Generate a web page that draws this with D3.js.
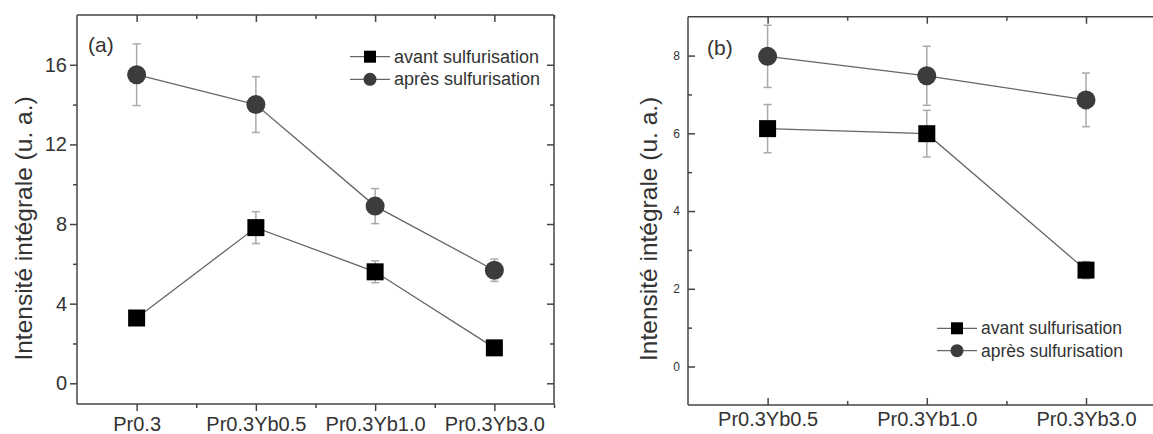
<!DOCTYPE html>
<html><head><meta charset="utf-8">
<script src="https://cdn.jsdelivr.net/npm/d3@7"></script>
<style>
body{margin:0;background:#fff;}
svg{display:block;font-family:"Liberation Sans",Arial,sans-serif;}
</style></head>
<body><svg id="c" width="1153" height="434"></svg>
<script>
// ---- Data ----
const catsA = ["Pr0.3","Pr0.3Yb0.5","Pr0.3Yb1.0","Pr0.3Yb3.0"];
const avantA = [3.28, 7.82, 5.6, 1.78];
const avantAErr = [0.2, 0.8, 0.55, 0.2];
const apresA = [15.5, 14.0, 8.9, 5.68];
const apresAErr = [1.55, 1.4, 0.88, 0.56];
const yTicksA = [0, 4, 8, 12, 16];
const yMinorA = [2, 6, 10, 14];

const catsB = ["Pr0.3Yb0.5","Pr0.3Yb1.0","Pr0.3Yb3.0"];
const avantB = [6.12, 5.99, 2.48];
const avantBErr = [0.62, 0.6, 0.22];
const apresB = [7.98, 7.48, 6.86];
const apresBErr = [0.8, 0.76, 0.69];
const yTicksB = [0, 2, 4, 6, 8];
const yMinorB = [1, 3, 5, 7];

const seriesNames = ["avant sulfurisation", "après sulfurisation"];

const svg = d3.select("#c");
const frameCol = "#444", lineCol = "#666", errCol = "#aaa";
const sqCol = "#000", ciCol = "#3c3c3c";

function styleTicks(sel){
  sel.select(".domain").remove();
  sel.selectAll("line").attr("stroke",frameCol).attr("stroke-width",1.5);
}

function panel(o){
  const g = svg.append("g");
  const x = d3.scaleLinear().domain([0.5, o.cats.length + 0.5]).range([o.left, o.left + o.w]);
  const y = d3.scaleLinear().domain(o.ydom).range([o.bottom, o.top]);
  const right = o.left + o.w;
  const visRight = Math.min(right, 1160);
  const s = o.out ? 1 : -1; // outward (+) or inward (-) for left/bottom ticks
  // frame
  g.append("line").attr("x1",o.left).attr("x2",o.left).attr("y1",o.top).attr("y2",o.bottom).attr("stroke",frameCol).attr("stroke-width",1.5);
  g.append("line").attr("x1",o.left).attr("x2",visRight).attr("y1",o.top).attr("y2",o.top).attr("stroke",frameCol).attr("stroke-width",1.5);
  g.append("line").attr("x1",o.left).attr("x2",visRight).attr("y1",o.bottom).attr("y2",o.bottom).attr("stroke",frameCol).attr("stroke-width",1.5);
  if (o.rightFrame) g.append("line").attr("x1",right).attr("x2",right).attr("y1",o.top).attr("y2",o.bottom).attr("stroke",frameCol).attr("stroke-width",1.5);

  // left axis
  const ya = d3.axisLeft(y).tickValues(o.yt).tickSizeInner(7*s).tickSizeOuter(0).tickPadding(o.ytPad).tickFormat(d3.format("d"));
  const yg = g.append("g").attr("transform",`translate(${o.left},0)`).call(ya);
  styleTicks(yg);
  yg.selectAll("text").attr("font-size",o.ytFont).attr("fill","#333");
  const ym = d3.axisLeft(y).tickValues(o.ym).tickSizeInner(4*s).tickSizeOuter(0).tickFormat("");
  styleTicks(g.append("g").attr("transform",`translate(${o.left},0)`).call(ym));
  if (o.rightFrame){
    [[o.yt,7],[o.ym,4]].forEach(([vals,len])=>{
      const ra = d3.axisRight(y).tickValues(vals).tickSizeInner(-len).tickSizeOuter(0).tickFormat("");
      styleTicks(g.append("g").attr("transform",`translate(${right},0)`).call(ra));
    });
  }
  // bottom axis
  const idx = o.cats.map((c,i)=>i+1);
  const minorX = d3.range(1.5, o.cats.length + 0.6, 1).filter(v=>x(v)<1153);
  const xa = d3.axisBottom(x).tickValues(idx).tickSizeInner(7*s).tickSizeOuter(0).tickPadding(o.xtPad).tickFormat((d)=>o.cats[d-1]);
  const xg = g.append("g").attr("transform",`translate(0,${o.bottom})`).call(xa);
  styleTicks(xg);
  xg.selectAll("text").attr("font-size",20).attr("fill","#333");
  const xm = d3.axisBottom(x).tickValues(minorX).tickSizeInner(4*s).tickSizeOuter(0).tickFormat("");
  styleTicks(g.append("g").attr("transform",`translate(0,${o.bottom})`).call(xm));
  // top ticks inward
  const ta = d3.axisTop(x).tickValues(idx).tickSizeInner(-7).tickSizeOuter(0).tickFormat("");
  styleTicks(g.append("g").attr("transform",`translate(0,${o.top})`).call(ta));
  const tm = d3.axisTop(x).tickValues(minorX).tickSizeInner(-4).tickSizeOuter(0).tickFormat("");
  styleTicks(g.append("g").attr("transform",`translate(0,${o.top})`).call(tm));

  // y label
  g.append("text").attr("transform",`translate(${o.ylabX},${(o.top+o.bottom)/2+o.ylabDy}) rotate(-90)`)
    .attr("text-anchor","middle").attr("font-size",24.5).attr("fill","#333").text("Intensité intégrale (u. a.)");
  // panel label
  g.append("text").attr("x",o.pl[0]).attr("y",o.pl[1]).attr("font-size",21).attr("fill","#333").text(o.plText);

  // series
  const line = d3.line().x((d,i)=>x(i+1)).y(d=>y(d));
  const series = [
    {vals:o.apres, err:o.apresErr, shape:"circle"},
    {vals:o.avant, err:o.avantErr, shape:"square"}
  ];
  series.forEach(sr=>{
    g.append("path").datum(sr.vals).attr("d",line).attr("fill","none").attr("stroke",lineCol).attr("stroke-width",1.3);
  });
  series.forEach(sr=>{
    sr.vals.forEach((v,i)=>{
      const cx = x(i+1), e = sr.err[i];
      if (e>0){
        const y1=y(v+e), y2=y(v-e);
        g.append("line").attr("x1",cx).attr("x2",cx).attr("y1",y1).attr("y2",y2).attr("stroke",errCol).attr("stroke-width",1.5);
        [y1,y2].forEach(yy=>g.append("line").attr("x1",cx-4).attr("x2",cx+4).attr("y1",yy).attr("y2",yy).attr("stroke",errCol).attr("stroke-width",1.5));
      }
    });
  });
  series.forEach(sr=>{
    sr.vals.forEach((v,i)=>{
      const cx = x(i+1), cy = y(v);
      if (sr.shape==="circle") g.append("circle").attr("cx",cx).attr("cy",cy).attr("r",o.ms/2+1).attr("fill",ciCol);
      else g.append("rect").attr("x",cx-o.ms/2).attr("y",cy-o.ms/2).attr("width",o.ms).attr("height",o.ms).attr("fill",sqCol);
    });
  });

  // legend
  const [lx, ly, lgap, lfs] = o.leg;
  [["square",sqCol],["circle",ciCol]].forEach(([shape,col],k)=>{
    const yy = ly + k*lgap;
    g.append("line").attr("x1",lx).attr("x2",lx+40).attr("y1",yy).attr("y2",yy).attr("stroke",lineCol).attr("stroke-width",1.3);
    if (shape==="circle") g.append("circle").attr("cx",lx+20).attr("cy",yy).attr("r",6.5).attr("fill",col);
    else g.append("rect").attr("x",lx+14).attr("y",yy-6).attr("width",12).attr("height",12).attr("fill",col);
    g.append("text").attr("x",lx+44).attr("y",yy+6).attr("font-size",lfs).attr("fill","#333").text(seriesNames[k]);
  });
}

panel({cats:catsA, avant:avantA, avantErr:avantAErr, apres:apresA, apresErr:apresAErr,
  ydom:[-1.04,18.5], yt:yTicksA, ym:yMinorA, left:77, w:477, top:15, bottom:404, rightFrame:true, out:true,
  ytFont:20, ytPad:3, xtPad:6, ylabX:32, ylabDy:19, pl:[88,52], plText:"(a)", ms:17, leg:[350,56.7,22.6,18]});

panel({cats:catsB, avant:avantB, avantErr:avantBErr, apres:apresB, apresErr:apresBErr,
  ydom:[-0.99,9.0], yt:yTicksB, ym:yMinorB, left:688, w:477.6, top:16.7, bottom:405, rightFrame:false, out:false,
  ytFont:12, ytPad:8, xtPad:7, ylabX:657, ylabDy:18, pl:[707,55], plText:"(b)", ms:17, leg:[937,328.3,22.4,17.5]});
</script></body></html>
